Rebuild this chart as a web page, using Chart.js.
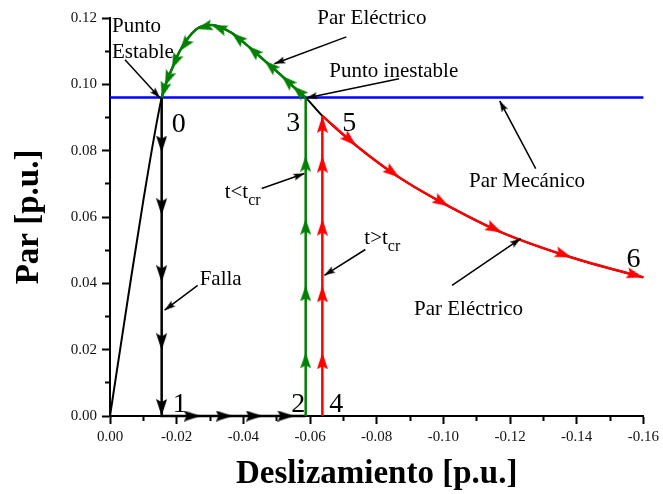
<!DOCTYPE html>
<html>
<head>
<meta charset="utf-8">
<script src="https://cdn.jsdelivr.net/npm/chart.js@4/dist/chart.umd.min.js"></script>
<style>
  html, body { margin: 0; padding: 0; background: #fff; }
</style>
</head>
<body>
<canvas id="chart" width="663" height="494"></canvas>
<script>
// torque-slip curve (x = slip, y = torque)
const slip   = [0, -0.005, -0.010, -0.0155, -0.0165, -0.0186, -0.0209, -0.026, -0.0305, -0.0365, -0.0413, -0.0464, -0.0515, -0.0548, -0.0587, -0.0637, -0.0739, -0.0868, -0.1017, -0.1176, -0.1385, -0.16];
const torque = [0, 0.033, 0.065, 0.096, 0.0995, 0.1047, 0.110, 0.1167, 0.1179, 0.1155, 0.1116, 0.1071, 0.1026, 0.0995, 0.096, 0.0905, 0.0815, 0.0719, 0.0632, 0.0553, 0.0478, 0.0418];
const mechTorque = 0.096;

// fault: drop from point 0 to 1, then slide along zero torque to point 2
const faultSlip = -0.0155;
const dropY  = [0.096, 0.0794, 0.0605, 0.0403, 0.0198, 0];
const slideX = [-0.0155, -0.0272, -0.0368, -0.0458, -0.0553, -0.0587];

// fault cleared in time (2 -> 3) and too late (4 -> 5)
const clearSlip = -0.0587;
const clearY = [0, 0.0192, 0.0394, 0.0595, 0.0785, 0.096];
const lateSlip = -0.0637;
const lateY  = [0, 0.0192, 0.0394, 0.0595, 0.0785, 0.0905];

// pointer arrows: [tail slip, tail torque, tip slip, tip torque]
const pointers = [
  [-0.0045, 0.1074, -0.0150, 0.0959],
  [-0.0709, 0.1143, -0.0493, 0.1062],
  [-0.0867, 0.1017, -0.0589, 0.0959],
  [-0.1277, 0.0746, -0.1169, 0.0950],
  [-0.0455, 0.0686, -0.0583, 0.0731],
  [-0.0766, 0.0502, -0.0643, 0.0424],
  [-0.0263, 0.0394, -0.0164, 0.0319],
  [-0.1026, 0.0394, -0.1232, 0.0535]
];

// text notes: [text, subscript, slip, torque]
const notes = [
  ["Punto", "", -0.0006, 0.1158],
  ["Estable", "", -0.0006, 0.1080],
  ["Par Eléctrico", "", -0.0622, 0.1182],
  ["Punto inestable", "", -0.0658, 0.1023],
  ["Par Mecánico", "", -0.1077, 0.0689],
  ["Par Eléctrico", "", -0.0912, 0.0304],
  ["Falla", "", -0.0269, 0.0394],
  ["t<t", "cr", -0.0344, 0.0656],
  ["t>t", "cr", -0.0763, 0.0520]
];
const stateLabels = [
  ["0", -0.0185, 0.0857],
  ["1", -0.0188, 0.0012],
  ["2", -0.0544, 0.0012],
  ["3", -0.0529, 0.0860],
  ["4", -0.0658, 0.0012],
  ["5", -0.0697, 0.0860],
  ["6", -0.1549, 0.0448]
];

const SERIF = '"Liberation Serif", "Times New Roman", serif';
const GREEN = "rgb(0,128,0)";
const RED = "rgb(255,0,0)";

function arrowHead(color, w, len) {
  const c = document.createElement("canvas");
  c.width = w;
  c.height = len * 2;
  const g = c.getContext("2d");
  g.fillStyle = color;
  g.beginPath();
  g.moveTo(w / 2, len);
  g.lineTo(w, len * 2);
  g.lineTo(w / 2, len * 1.82);
  g.lineTo(0, len * 2);
  g.closePath();
  g.fill();
  return c;
}

// rotate each head along the incoming segment, in pixels
function headAngle(ctx) {
  const data = ctx.dataset.data;
  const i = ctx.dataIndex;
  if (!i) return 0;
  const sx = ctx.chart.scales.x, sy = ctx.chart.scales.y;
  const dx = sx.getPixelForValue(data[i].x) - sx.getPixelForValue(data[i - 1].x);
  const dy = sy.getPixelForValue(data[i].y) - sy.getPixelForValue(data[i - 1].y);
  return Math.atan2(dy, dx) * 180 / Math.PI + 90;
}

function path(points, color, width, heads, head, curved, order) {
  return {
    data: points,
    borderColor: color,
    borderWidth: width,
    tension: 0,
    cubicInterpolationMode: curved ? "monotone" : "default",
    pointStyle: head,
    pointRadius: ctx => heads.includes(ctx.dataIndex) ? 3 : 0,
    rotation: headAngle,
    clip: false,
    order: order
  };
}

const curvePts = slip.map((s, i) => ({ x: s, y: torque[i] }));
const i0 = slip.indexOf(-0.0155), i3 = slip.indexOf(-0.0587), i5 = slip.indexOf(-0.0637);
const backPts = curvePts.slice(i0, i3 + 1).reverse();
const runPts = curvePts.slice(i5);

const faultPts = dropY.map(v => ({ x: faultSlip, y: v }))
  .concat(slideX.slice(1).map(v => ({ x: v, y: 0 })));
const clearPts = clearY.map(v => ({ x: clearSlip, y: v }));
const latePts = lateY.map(v => ({ x: lateSlip, y: v }));

const blackHead = arrowHead("#000", 11, 17);
const greenHead = arrowHead(GREEN, 11, 16);
const redHead = arrowHead(RED, 11, 17);
const smallHead = arrowHead("#000", 7, 11);

const datasets = [
  { data: [{ x: 0, y: mechTorque }, { x: -0.16, y: mechTorque }], borderColor: "#0000ff", borderWidth: 2.5, pointRadius: 0, clip: false, order: 6 },
  { data: curvePts, borderColor: "#000", borderWidth: 2, pointRadius: 0, cubicInterpolationMode: "monotone", clip: false, order: 5 },
  path(faultPts, "#000", 2.5, [1, 2, 3, 4, 5, 6, 7, 8, 9], blackHead, false, 3),
  path(clearPts, GREEN, 2.5, [1, 2, 3, 4], greenHead, false, 2),
  path(backPts, GREEN, 2.5, backPts.map((p, i) => i).slice(1), greenHead, true, 2),
  path(latePts, RED, 2.5, [1, 2, 3, 4, 5], redHead, false, 2),
  path(runPts, RED, 2.5, runPts.map((p, i) => i).slice(1), redHead, true, 2)
];
pointers.forEach(p => {
  datasets.push(path([{ x: p[0], y: p[1] }, { x: p[2], y: p[3] }], "#000", 1.5, [1], smallHead, false, 1));
});

const notesPlugin = {
  id: "notes",
  afterDatasetsDraw(chart) {
    const { ctx, scales: { x, y } } = chart;
    ctx.save();
    ctx.fillStyle = "#000";
    ctx.textAlign = "left";
    ctx.textBaseline = "alphabetic";
    notes.forEach(([text, sub, sx, sy]) => {
      const px = x.getPixelForValue(sx), py = y.getPixelForValue(sy);
      ctx.font = "21px " + SERIF;
      ctx.fillText(text, px, py);
      if (sub) {
        const w = ctx.measureText(text).width;
        ctx.font = "16px " + SERIF;
        ctx.fillText(sub, px + w, py + 7);
      }
    });
    ctx.font = "28px " + SERIF;
    stateLabels.forEach(([text, sx, sy]) => {
      ctx.fillText(text, x.getPixelForValue(sx), y.getPixelForValue(sy));
    });
    ctx.restore();
  }
};

function isMajor(v) {
  return Math.round(Math.abs(v) * 100) % 2 === 0;
}

new Chart(document.getElementById("chart"), {
  type: "line",
  data: { datasets },
  options: {
    responsive: false,
    animation: false,
    events: [],
    layout: { padding: { top: 18, right: 18, left: 0, bottom: 0 } },
    plugins: { legend: { display: false }, tooltip: { enabled: false } },
    scales: {
      x: {
        type: "linear",
        min: -0.16,
        max: 0,
        reverse: true,
        afterFit: s => { s.height = 78; },
        border: { display: true, color: "#000", width: 2 },
        grid: {
          drawOnChartArea: false,
          drawTicks: true,
          tickLength: 8,
          tickColor: "#000",
          tickWidth: 2,
          tickBorderDash: ctx => isMajor(ctx.tick.value) ? [] : [4, 20]
        },
        ticks: {
          stepSize: 0.01,
          autoSkip: false,
          maxRotation: 0,
          padding: 4,
          color: "#111",
          font: { family: SERIF, size: 15 },
          callback: v => isMajor(v) ? (Math.abs(v) < 1e-9 ? "0.00" : v.toFixed(2)) : ""
        },
        title: {
          display: true,
          text: "Deslizamiento [p.u.]",
          color: "#000",
          font: { family: SERIF, size: 33, weight: "bold" },
          padding: { top: 0, bottom: 0 }
        }
      },
      y: {
        type: "linear",
        min: 0,
        max: 0.12,
        afterFit: s => { s.width = 110; },
        border: { display: true, color: "#000", width: 2 },
        grid: {
          drawOnChartArea: false,
          drawTicks: true,
          tickLength: 8,
          tickColor: "#000",
          tickWidth: 2,
          tickBorderDash: ctx => isMajor(ctx.tick.value) ? [] : [0, 3, 10]
        },
        ticks: {
          stepSize: 0.01,
          autoSkip: false,
          padding: 5,
          color: "#111",
          font: { family: SERIF, size: 15 },
          callback: v => isMajor(v) ? v.toFixed(2) : ""
        },
        title: {
          display: true,
          text: "Par [p.u.]",
          color: "#000",
          font: { family: SERIF, size: 33, weight: "bold" },
          padding: { top: 10, bottom: 0 }
        }
      }
    }
  },
  plugins: [notesPlugin]
});
</script>
</body>
</html>
